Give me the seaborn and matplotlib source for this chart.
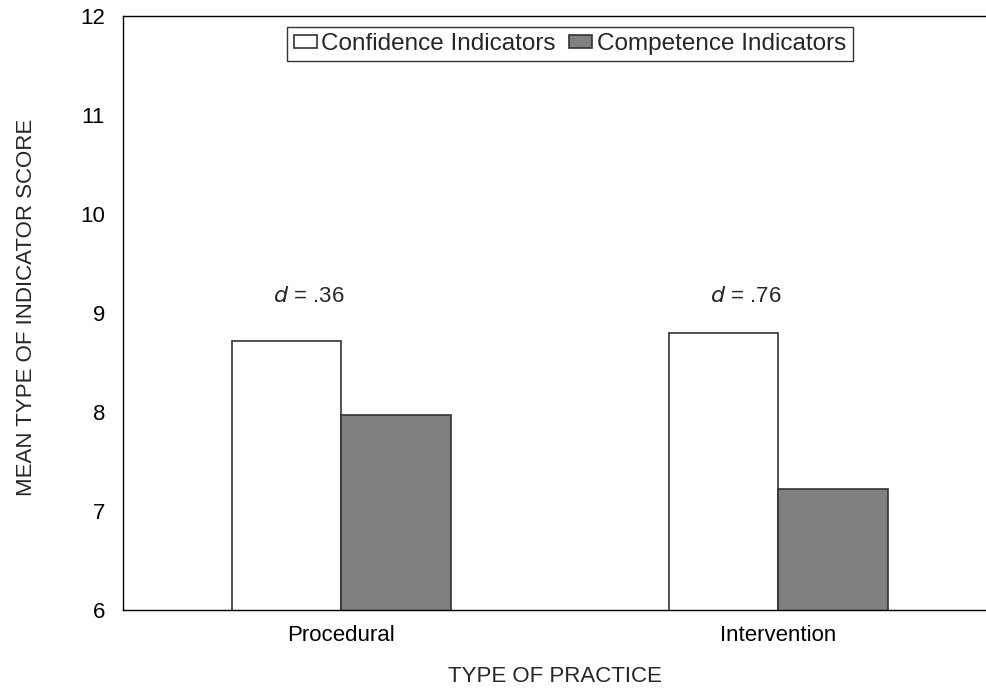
import matplotlib
matplotlib.use("Agg")
import matplotlib.pyplot as plt
import seaborn as sns
import pandas as pd

categories = ["Procedural", "Intervention"]
series = ["Confidence Indicators", "Competence Indicators"]
confidence = [8.72, 8.80]
competence = [7.97, 7.22]
effect_d = [".36", ".76"]

df = pd.DataFrame({
    "practice": categories * 2,
    "indicator": [series[0]] * 2 + [series[1]] * 2,
    "score": confidence + competence,
})

sns.set_theme(style="white")
plt.rcParams["font.family"] = ["Liberation Sans", "DejaVu Sans"]

FS = 16
LFS = 17.5
fig = plt.figure(figsize=(9.86, 6.88), dpi=100)
ax = fig.add_axes([123 / 986, 1 - 610 / 688, 1 - 123 / 986, (610 - 16) / 688])

sns.barplot(data=df, x="practice", y="score", hue="indicator", order=categories,
            hue_order=series, palette=["white", "#808080"], width=0.5,
            edgecolor="#333333", linewidth=1.2, saturation=1, ax=ax, legend=True)

ax.set_ylim(6, 12)
ax.set_xlim(-0.5, 1.475)
ax.set_yticks([6, 7, 8, 9, 10, 11, 12])
ax.tick_params(axis="both", length=0, labelsize=FS, colors="black")
ax.tick_params(axis="y", pad=13)
ax.tick_params(axis="x", pad=11)
for s in ["left", "bottom", "top"]:
    ax.spines[s].set_visible(True)
    ax.spines[s].set_color("black")
    ax.spines[s].set_linewidth(1)
ax.spines["right"].set_visible(False)

ax.set_xlabel("TYPE OF PRACTICE", fontsize=FS)
ax.set_ylabel("MEAN TYPE OF INDICATOR SCORE", fontsize=FS)
ax.xaxis.set_label_coords(0.5, -0.095)
ax.yaxis.set_label_coords(-0.1, 0.51)

for i, d in enumerate(effect_d):
    ax.text(i - 0.075, 9.17, "$\\it{d}$ = " + d, ha="center", va="center", fontsize=FS)

leg = ax.legend(loc="upper center", bbox_to_anchor=(0.518, 0.981), ncol=2, fontsize=LFS,
                frameon=True, fancybox=False, edgecolor="black", handlelength=0.95,
                handleheight=0.42, handletextpad=0.2, columnspacing=0.55,
                borderpad=0.25, borderaxespad=0)
leg.get_frame().set_linewidth(1)

fig.savefig("out.png", dpi=100)
